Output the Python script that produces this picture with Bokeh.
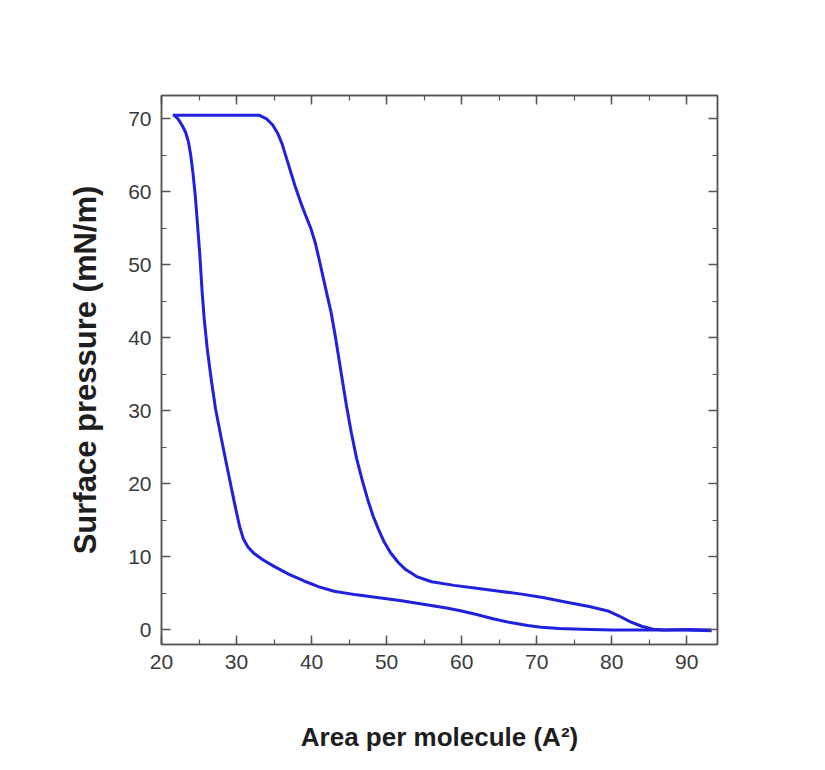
from bokeh.plotting import figure
from bokeh.models import LinearAxis, Range1d, SingleIntervalTicker
from bokeh.embed import file_html
from bokeh.resources import INLINE

# Compression branch (right curve)
compression_area = [21.5, 25.0, 29.0, 33.0, 34.0, 34.8, 35.5, 36.1, 36.6, 37.2, 37.8, 38.5, 39.2, 39.9,
                    40.5, 41.0, 41.5, 42.0, 42.6, 43.2, 43.9, 44.6, 45.3, 46.0, 46.8, 47.5, 48.2,
                    48.9, 49.7, 50.5, 51.5, 52.5, 54.0, 56.0, 59.0, 62.0, 65.0, 68.0, 71.0, 74.0,
                    77.0, 79.5, 81.0, 82.5, 84.0, 85.5, 87.0, 90.0, 93.3]
compression_pressure = [70.5, 70.5, 70.5, 70.5, 70.0, 69.2, 68.0, 66.5, 64.8, 62.8, 60.8, 58.7, 56.8, 55.0,
                        53.0, 50.8, 48.5, 46.2, 43.5, 40.0, 35.5, 31.0, 27.0, 23.5, 20.3, 17.8, 15.6,
                        13.8, 12.0, 10.6, 9.3, 8.3, 7.3, 6.6, 6.1, 5.7, 5.3, 4.9, 4.4, 3.8,
                        3.2, 2.6, 1.9, 1.1, 0.5, 0.1, 0.0, 0.05, 0.0]

# Expansion branch (left curve)
expansion_area = [21.7, 22.2, 22.7, 23.2, 23.6, 23.9, 24.2, 24.5, 24.8, 25.1, 25.4, 25.7, 26.1, 26.6,
                  27.2, 27.9, 28.8, 29.7, 30.4, 30.9, 31.5, 32.3, 33.5, 35.0, 37.0, 39.0, 41.0,
                  43.0, 46.0, 49.0, 52.0, 55.5, 58.0, 60.0, 62.0, 64.3, 66.5, 68.8, 70.6, 73.0,
                  76.0, 80.0, 85.0, 90.0, 93.3]
expansion_pressure = [70.5, 70.0, 69.2, 68.2, 66.8, 65.0, 62.5, 59.5, 55.5, 51.5, 46.5, 42.5, 38.5, 34.5,
                      30.3, 26.6, 22.0, 17.5, 14.2, 12.5, 11.4, 10.5, 9.6, 8.7, 7.6, 6.7, 5.9,
                      5.3, 4.8, 4.4, 4.0, 3.4, 3.0, 2.6, 2.1, 1.5, 1.0, 0.6, 0.35, 0.2,
                      0.1, 0.0, 0.0, 0.0, -0.1]

x_label = "Area per molecule (A²)"
y_label = "Surface pressure (mN/m)"

FONT = "Liberation Sans"
LINE = "#2020dd"
AX = "#555555"

p = figure(width=809, height=754, output_backend="svg", toolbar_location=None,
           x_range=Range1d(20, 94.1), y_range=Range1d(-2, 73.2),
           min_border_left=161, min_border_right=92, min_border_top=95, min_border_bottom=108)
p.background_fill_color = "white"
p.border_fill_color = "white"
p.outline_line_color = AX
p.outline_line_width = 1.5
p.grid.visible = False

p.line(compression_area, compression_pressure, line_color=LINE, line_width=3, line_join="round")
p.line(expansion_area, expansion_pressure, line_color=LINE, line_width=3, line_join="round")

bottom = p.below[0]
left = p.left[0]
right = LinearAxis()
top = LinearAxis()
p.add_layout(right, "right")
p.add_layout(top, "above")

for ax in (bottom, top, left, right):
    ax.ticker = SingleIntervalTicker(interval=10, num_minor_ticks=2)
    ax.axis_line_color = AX
    ax.axis_line_width = 1.5
    ax.major_tick_line_color = AX
    ax.minor_tick_line_color = AX
    ax.major_tick_line_width = 1.5
    ax.minor_tick_line_width = 1.2
    ax.major_tick_in = 9
    ax.major_tick_out = 0
    ax.minor_tick_in = 5
    ax.minor_tick_out = 0
    ax.major_label_text_font = FONT
    ax.major_label_text_font_size = "21px"
    ax.major_label_text_color = "#3a3a3a"
    ax.axis_label_text_font = FONT
    ax.axis_label_text_font_style = "bold"
    ax.axis_label_text_color = "#1e1e1e"

for ax in (right, top):
    ax.major_label_text_font_size = "0px"
    ax.major_label_text_alpha = 0

left.axis_label = y_label
left.major_label_standoff = 10
left.axis_label_text_font_size = "31px"
left.axis_label_standoff = 22

bottom.axis_label = x_label
bottom.major_label_standoff = 10
bottom.axis_label_text_font_size = "26px"
bottom.axis_label_standoff = 50

open("out.html", "w").write(file_html(p, INLINE))
